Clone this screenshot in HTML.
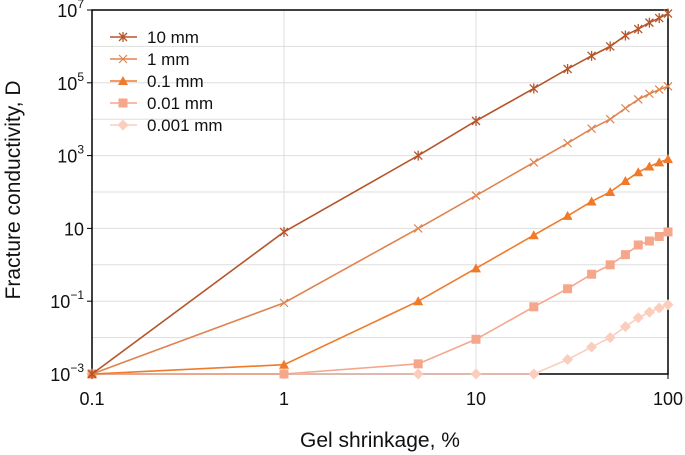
<!DOCTYPE html>
<html><head><meta charset="utf-8"><style>
body{margin:0;background:#fff}
svg{display:block;font-family:"Liberation Sans",Arial,sans-serif}
</style></head><body>
<svg id="c" width="685" height="455"></svg>
<script>
const xs=[0.1,1,5,10,20,30,40,50,60,70,80,90,100];
const s10=[1e-3,8,1e3,9e3,7e4,2.4e5,5.5e5,1e6,2e6,3e6,4.5e6,6e6,8e6];
const s1=[1e-3,0.09,10,80,650,2.2e3,5.5e3,1e4,2e4,3.5e4,5e4,6.5e4,8e4];
const s01=[1e-3,0.0018,0.1,0.8,6.5,22,55,100,200,350,500,650,800];
const s001=[1e-3,1e-3,0.0019,0.009,0.07,0.22,0.55,1,1.9,3.5,4.5,6,8];
const s0001=[1e-3,1e-3,1e-3,1e-3,1e-3,0.0025,0.0055,0.01,0.02,0.035,0.05,0.065,0.08];
const names=["10 mm","1 mm","0.1 mm","0.01 mm","0.001 mm"];
const xTicks=["0.1","1","10","100"];
const yTicks=[[-3,"10","−3"],[-1,"10","−1"],[1,"10",""],[3,"10","3"],[5,"10","5"],[7,"10","7"]];
const NS="http://www.w3.org/2000/svg";
const svg=document.getElementById('c');
const L=92,R=668,T=10,B=374;
const X=v=>L+(Math.log10(v)+1)/3*(R-L);
const Y=v=>B-(Math.log10(v)+3)/10*(B-T);
function el(t,a,p){const e=document.createElementNS(NS,t);for(const k in a)e.setAttribute(k,a[k]);(p||svg).appendChild(e);return e;}
for(let d=-2;d<=6;d++){const g=el('line',{x1:L,x2:R,y1:Y(10**d),y2:Y(10**d),stroke:'#ddd','stroke-width':1});

}
for(let d=0;d<=1;d++){const g=el('line',{x1:X(10**d),x2:X(10**d),y1:T,y2:B,stroke:'#ddd','stroke-width':1});

}
const fr=el('rect',{x:L,y:T,width:R-L,height:B-T,fill:'none',stroke:'#000','stroke-width':1.5});


xTicks.forEach(t=>{const x=X(parseFloat(t));
el('line',{x1:x,x2:x,y1:B,y2:B+5,stroke:'#000'});
const tx=el('text',{x:x,y:B+31,'text-anchor':'middle','font-size':18,fill:'#111'});tx.textContent=t;

});
yTicks.forEach(t=>{const y=Y(10**t[0]);
el('line',{x1:L-5,x2:L,y1:y,y2:y,stroke:'#000'});
const tx=el('text',{x:L-8,y:y+7,'text-anchor':'end','font-size':18,fill:'#111'});


if(t[2]===""){tx.textContent=t[1];}else{const a=el('tspan',{},tx);a.textContent=t[1];const b=el('tspan',{dy:-9,'font-size':12},tx);b.textContent=t[2];}
});
const xt=el('text',{x:380,y:447,'text-anchor':'middle','font-size':21,fill:'#111'});xt.textContent="Gel shrinkage, %";


const yt=el('text',{x:0,y:0,transform:'translate(20,190) rotate(-90)','text-anchor':'middle','font-size':21,fill:'#111'});yt.textContent="Fracture conductivity, D";


const series=[s10,s1,s01,s001,s0001];
const cols=['#b5552a','#e0844f','#f07a2a','#f5a78c','#fbcdbd'];
const mk=['star','x','tri','sq','dia'];
function marker(g,t,x,y,c){
 if(t==='star'){el('path',{d:`M${x} ${y-5}V${y+5}M${x-4} ${y-4}L${x+4} ${y+4}M${x-4} ${y+4}L${x+4} ${y-4}`,stroke:c,'stroke-width':1.3},g);}
 else if(t==='x'){el('path',{d:`M${x-4} ${y-4}L${x+4} ${y+4}M${x-4} ${y+4}L${x+4} ${y-4}`,stroke:c,'stroke-width':1.2},g);}
 else if(t==='tri'){el('path',{d:`M${x} ${y-5}L${x+5} ${y+4}L${x-5} ${y+4}Z`,fill:c},g);}
 else if(t==='sq'){el('rect',{x:x-4.5,y:y-4.5,width:9,height:9,fill:c},g);}
 else {el('path',{d:`M${x} ${y-5.5}L${x+5.5} ${y}L${x} ${y+5.5}L${x-5.5} ${y}Z`,fill:c},g);}
}
for(let i=4;i>=0;i--){const g=el('g',{});


el('polyline',{points:xs.map((x,j)=>X(x)+','+Y(series[i][j])).join(' '),fill:'none',stroke:cols[i],'stroke-width':1.6},g);
xs.forEach((x,j)=>marker(g,mk[i],X(x),Y(series[i][j]),cols[i]));}
names.forEach((n,i)=>{const g=el('g',{});


const y=37+i*22;
el('line',{x1:110,x2:137,y1:y,y2:y,stroke:cols[i],'stroke-width':1.6},g);
marker(g,mk[i],123,y,cols[i]);
const t=el('text',{x:147,y:y+6,'font-size':17,fill:'#111'},g);t.textContent=n;});
</script>
</body></html>
